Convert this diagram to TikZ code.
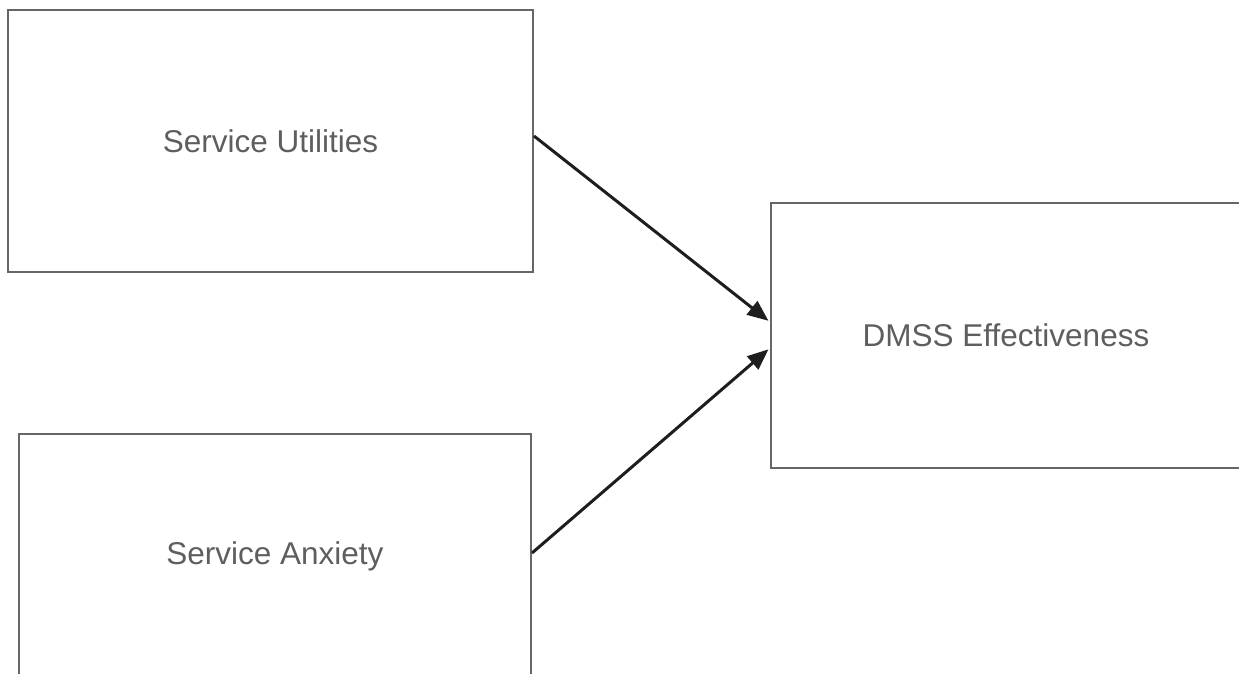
\documentclass[tikz,border=0pt]{standalone}
\usepackage{fontspec}
\setmainfont{Liberation Sans}
\usetikzlibrary{arrows.meta}
\definecolor{boxgray}{RGB}{102,102,102}
\definecolor{txtgray}{RGB}{94,94,94}
\definecolor{arrblack}{RGB}{30,30,30}
\tikzset{
  factor/.style={draw=boxgray,line width=2pt,text=txtgray,font=\fontsize{31.5}{36}\selectfont,inner sep=0pt},
  link/.style={draw=arrblack,line width=3pt,-{Triangle[length=21pt,width=17pt]},shorten >=2pt}
}
\begin{document}
\begin{tikzpicture}[x=1pt,y=-1pt]
\useasboundingbox(0,0)rectangle(1239,673);
%boxes
\node[factor,minimum width=525pt,minimum height=262pt](su)at(270.5,141){Service Utilities};
\node[factor,minimum width=512pt,minimum height=244pt](sa)at(275,556){Service Anxiety};
\node[factor,minimum width=470pt,minimum height=265pt](dm)at(1006,335.5){DMSS Effectiveness};
%arrows
\draw[link]([yshift=5pt]su.east)--([yshift=13.5pt]dm.west);
\draw[link]([yshift=3pt]sa.east)--([yshift=-12.5pt]dm.west);
\end{tikzpicture}
\end{document}
